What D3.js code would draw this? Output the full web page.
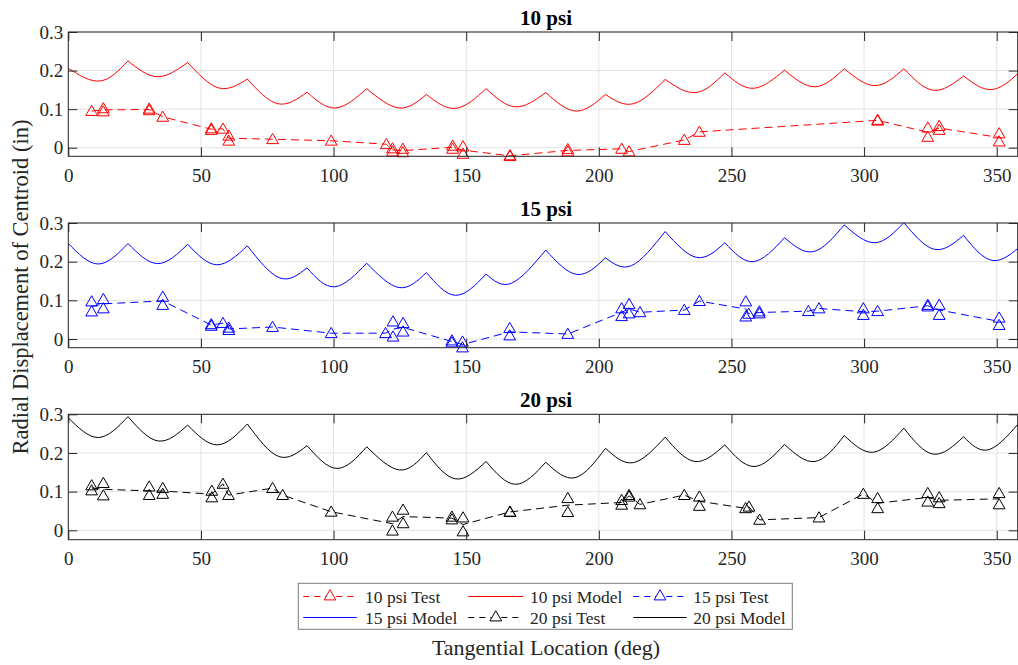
<!DOCTYPE html>
<html>
<head>
<meta charset="utf-8">
<script src="https://cdn.jsdelivr.net/npm/d3@7"></script>
<style>
  body { margin: 0; background: #fff; }
  svg, svg text { font-family: 'Liberation Serif', 'Times New Roman', serif !important; }
</style>
</head>
<body>
<svg id="chart" width="1018" height="665" font-family="Liberation Serif"></svg>
<script>
// ---------- data ----------
const panelTitles = ["10 psi", "15 psi", "20 psi"];
const seriesColors = ["#ff0000", "#0000ff", "#000000"];
const xTickValues = [0, 50, 100, 150, 200, 250, 300, 350];
const yTickValues = [0, 0.1, 0.2, 0.3];
const yTickLabels = ["0", "0.1", "0.2", "0.3"];
const legendLabels = ["10 psi Test", "10 psi Model", "15 psi Test",
                      "15 psi Model", "20 psi Test", "20 psi Model"];

// Model curves: crest angles (every 22.5 deg) and the troughs between them
const crestAngles = [0, 22.5, 45, 67.5, 90, 112.5, 135, 157.5, 180,
                     202.5, 225, 247.5, 270, 292.5, 315, 337.5, 360];
const model10Crests = [0.206, 0.225, 0.221, 0.178, 0.144, 0.153, 0.138, 0.153, 0.143,
                       0.138, 0.177, 0.194, 0.201, 0.205, 0.205, 0.186, 0.206];
const model10TroughAngles = [12, 33.6, 56.7, 79, 100.7, 124.7, 146, 168.5,
                             191.4, 213, 236.6, 258.2, 281.5, 304.1, 326.1, 348.5];
const model10Troughs = [0.173, 0.184, 0.155, 0.114, 0.103, 0.103, 0.102, 0.106,
                        0.095, 0.114, 0.143, 0.154, 0.158, 0.161, 0.149, 0.151];

const model15Crests = [0.247, 0.247, 0.245, 0.241, 0.184, 0.196, 0.172, 0.168, 0.230,
                       0.210, 0.278, 0.249, 0.262, 0.295, 0.301, 0.268, 0.247];
const model15TroughAngles = [11.3, 33.7, 56, 79.7, 100.4, 124.7, 146, 167,
                             191.7, 212.4, 236.9, 258.2, 280.9, 304.1, 326.5, 348.5];
const model15Troughs = [0.194, 0.195, 0.192, 0.158, 0.135, 0.133, 0.113, 0.144,
                        0.167, 0.190, 0.211, 0.200, 0.226, 0.249, 0.232, 0.203];

const model20Crests = [0.291, 0.294, 0.272, 0.275, 0.219, 0.216, 0.201, 0.178, 0.176,
                       0.212, 0.241, 0.221, 0.222, 0.245, 0.264, 0.242, 0.291];
const model20TroughAngles = [11.3, 33.9, 56.2, 79.3, 101.3, 124.9, 146, 168.6,
                             191, 213, 236.2, 258.5, 281.5, 303.5, 326.1, 347.2];
const model20Troughs = [0.240, 0.231, 0.221, 0.191, 0.160, 0.156, 0.133, 0.119,
                        0.136, 0.175, 0.178, 0.165, 0.178, 0.202, 0.197, 0.209];

// Test readings: gauge angles and the readings taken at each angle
const test10Angles = [8.8, 13.2, 30.5, 35.6, 53.9, 58.3, 60.5, 77, 99.1, 119.9, 122.2, 126.1,
                      144.9, 148.8, 166.5, 188.3, 208.6, 211.4, 232.2, 237.9, 305.1, 324, 328.3, 350.9];
const test10Values = [[0.095], [0.102, 0.094], [0.101, 0.097], [0.080], [0.050, 0.046], [0.049],
                      [0.031, 0.018], [0.022], [0.018], [0.009], [-0.002, -0.010], [-0.003, -0.012],
                      [0.005, -0.003], [0.003, -0.016], [-0.020, -0.022], [-0.004, -0.010], [-0.003],
                      [-0.010], [0.020], [0.041], [0.072, 0.070], [0.052, 0.028], [0.056, 0.046],
                      [0.037, 0.016]];

const test15Angles = [8.8, 13.2, 35.6, 53.9, 58.3, 60.5, 77, 99.1, 119.6, 122.4, 126.2, 144.6,
                      148.6, 166.4, 188.3, 208.6, 211.4, 215.5, 232.2, 237.9, 255.4, 256.5, 260.5,
                      279, 283, 299.7, 305.1, 324, 328.3, 350.9];
const test15Values = [[0.097, 0.071], [0.103, 0.079], [0.109, 0.088], [0.038, 0.034], [0.041],
                      [0.029, 0.023], [0.031], [0.015], [0.015], [0.045, 0.006], [0.041, 0.019],
                      [-0.004, -0.009], [-0.007, -0.022], [0.028, 0.009], [0.013], [0.079, 0.059],
                      [0.090, 0.066], [0.069], [0.075], [0.098], [0.097, 0.058], [0.065],
                      [0.071, 0.066], [0.072], [0.079], [0.079, 0.062], [0.072], [0.088, 0.084],
                      [0.088, 0.062], [0.055, 0.036]];

const test20Angles = [8.8, 13.2, 30.5, 35.6, 54.1, 58.3, 60.4, 77, 80.8, 99.1, 122.2, 126.2,
                      144.6, 148.8, 166.5, 188.3, 208.6, 211.4, 215.5, 232.2, 237.9, 255.3, 256.6,
                      260.6, 283, 299.7, 305.1, 324, 328.3, 350.9];
const test20Values = [[0.116, 0.103], [0.122, 0.090], [0.113, 0.091], [0.109, 0.094], [0.102, 0.085],
                      [0.120], [0.091], [0.109], [0.091], [0.048], [0.035, -0.001], [0.053, 0.018],
                      [0.035, 0.028], [0.033, -0.003], [0.048, 0.047], [0.083, 0.047], [0.078, 0.066],
                      [0.091, 0.087], [0.067], [0.091], [0.087, 0.063], [0.057], [0.061], [0.027],
                      [0.033], [0.094], [0.083, 0.057], [0.096, 0.074], [0.085, 0.070], [0.096, 0.067]];

// ---------- layout ----------
const svg = d3.select("#chart");
const serif = "Liberation Serif";
const plotLeft = 68.3, plotRight = 1017.7;
const panelBoxes = [
  { top: 32,    bottom: 156.3, yMin: -0.0223 },
  { top: 223,   bottom: 347.7, yMin: -0.0225 },
  { top: 414.3, bottom: 539.7, yMin: -0.0243 }
];
const axisColor = "#262626";
const gridColor = "#e3e3e3";
const tickLen = 9;

const x = d3.scaleLinear().domain([0, 357.9]).range([plotLeft, plotRight]);

const models = [
  { crests: model10Crests, troughAngles: model10TroughAngles, troughs: model10Troughs },
  { crests: model15Crests, troughAngles: model15TroughAngles, troughs: model15Troughs },
  { crests: model20Crests, troughAngles: model20TroughAngles, troughs: model20Troughs }
];
const tests = [
  { angles: test10Angles, values: test10Values },
  { angles: test15Angles, values: test15Values },
  { angles: test20Angles, values: test20Values }
];

const triangle = d3.symbol().type(d3.symbolTriangle).size(60);
const dashPattern = "8,5";

svg.append("defs").selectAll("clipPath")
  .data(panelBoxes).join("clipPath")
  .attr("id", (d, i) => "clip" + i)
  .append("rect")
  .attr("x", plotLeft).attr("y", d => d.top)
  .attr("width", plotRight - plotLeft).attr("height", d => d.bottom - d.top);

panelBoxes.forEach((box, i) => {
  const y = d3.scaleLinear().domain([box.yMin, 0.3]).range([box.bottom, box.top]);
  const color = seriesColors[i];
  const g = svg.append("g");

  // background grid
  g.append("g").selectAll("line").data(xTickValues).join("line")
    .attr("x1", d => x(d)).attr("x2", d => x(d))
    .attr("y1", box.top).attr("y2", box.bottom)
    .attr("stroke", gridColor).attr("stroke-width", 1);
  g.append("g").selectAll("line").data(yTickValues).join("line")
    .attr("x1", plotLeft).attr("x2", plotRight)
    .attr("y1", d => y(d)).attr("y2", d => y(d))
    .attr("stroke", gridColor).attr("stroke-width", 1);

  const plot = g.append("g").attr("clip-path", `url(#clip${i})`);

  // model curve: one smooth arc from each crest through its trough to the next crest
  const m = models[i];
  const arc = d3.line().x(d => x(d[0])).y(d => y(d[1])).curve(d3.curveNatural);
  let pathStr = "";
  for (let k = 0; k < m.troughs.length; k++) {
    pathStr += arc([
      [crestAngles[k], m.crests[k]],
      [m.troughAngles[k], m.troughs[k]],
      [crestAngles[k + 1], m.crests[k + 1]]
    ]);
  }
  plot.append("path").attr("d", pathStr)
    .attr("fill", "none").attr("stroke", color).attr("stroke-width", 1);

  // test data: dashed line through the mean at each gauge, triangles for every reading
  const t = tests[i];
  const meanPts = t.angles.map((a, k) => [a, d3.mean(t.values[k])]);
  plot.append("path")
    .attr("d", d3.line().x(d => x(d[0])).y(d => y(d[1]))(meanPts))
    .attr("fill", "none").attr("stroke", color).attr("stroke-width", 1)
    .attr("stroke-dasharray", dashPattern);
  const pts = t.angles.flatMap((a, k) => t.values[k].map(v => [a, v]));
  g.append("g").selectAll("path").data(pts).join("path")
    .attr("d", triangle)
    .attr("transform", d => `translate(${x(d[0])},${y(d[1]) + 1})`)
    .attr("fill", "none").attr("stroke", color).attr("stroke-width", 1);

  // axes with inward ticks
  const styleAxis = sel => {
    sel.attr("font-family", serif).attr("font-size", 19);
    sel.select(".domain").remove();
    sel.selectAll(".tick line").attr("stroke", axisColor);
    sel.selectAll(".tick text").attr("fill", axisColor)
      .attr("font-family", serif).attr("font-size", 19);
  };
  g.append("g").attr("transform", `translate(0,${box.bottom})`)
    .call(d3.axisBottom(x).tickValues(xTickValues).tickSizeInner(-tickLen).tickSizeOuter(0)
      .tickPadding(12).tickFormat(d3.format("d")))
    .call(styleAxis);
  g.append("g").attr("transform", `translate(0,${box.top})`)
    .call(d3.axisTop(x).tickValues(xTickValues).tickSizeInner(-tickLen).tickSizeOuter(0)
      .tickFormat(""))
    .call(styleAxis);
  g.append("g").attr("transform", `translate(${plotLeft},0)`)
    .call(d3.axisLeft(y).tickValues(yTickValues).tickSizeInner(-tickLen).tickSizeOuter(0)
      .tickPadding(5).tickFormat((d, k) => yTickLabels[k]))
    .call(styleAxis);
  g.append("g").attr("transform", `translate(${plotRight},0)`)
    .call(d3.axisRight(y).tickValues(yTickValues).tickSizeInner(-tickLen).tickSizeOuter(0)
      .tickFormat(""))
    .call(styleAxis);

  g.append("rect")
    .attr("x", plotLeft).attr("y", box.top)
    .attr("width", plotRight - plotLeft).attr("height", box.bottom - box.top)
    .attr("fill", "none").attr("stroke", axisColor).attr("stroke-width", 1);

  // panel title
  g.append("text")
    .attr("x", 546).attr("y", box.top - 7)
    .attr("text-anchor", "middle")
    .style("font-size", "21px").style("font-weight", "bold")
    .attr("fill", "#000")
    .text(panelTitles[i]);
});

// axis titles
svg.append("text")
  .attr("transform", "translate(28,287) rotate(-90)")
  .attr("text-anchor", "middle")
  .style("font-size", "22.5px").attr("fill", axisColor)
  .text("Radial Displacement of Centroid (in)");
svg.append("text")
  .attr("x", 546).attr("y", 655)
  .attr("text-anchor", "middle")
  .style("font-size", "22px").attr("fill", axisColor)
  .text("Tangential Location (deg)");

// legend
const legend = svg.append("g");
legend.append("rect")
  .attr("x", 298.3).attr("y", 583.3).attr("width", 494).attr("height", 46)
  .attr("fill", "#fff").attr("stroke", "#7a7a7a").attr("stroke-width", 1);
const colSample = [[303.3, 356.7], [468.3, 523.3], [633.3, 686.7]];
const colText = [365, 530, 693.3];
const rowY = [596.5, 617.5];
legendLabels.forEach((label, k) => {
  const row = Math.floor(k / 3), col = k % 3;
  const series = Math.floor(k / 2);
  const isTest = k % 2 === 0;
  const color = seriesColors[series];
  const [x1, x2] = colSample[col];
  const yy = rowY[row];
  legend.append("line")
    .attr("x1", x1).attr("x2", x2).attr("y1", yy).attr("y2", yy)
    .attr("stroke", color).attr("stroke-width", 1)
    .attr("stroke-dasharray", isTest ? "6,5" : null);
  if (isTest) {
    legend.append("path").attr("d", triangle)
      .attr("transform", `translate(${(x1 + x2) / 2},${yy})`)
      .attr("fill", "#fff").attr("stroke", color).attr("stroke-width", 1);
  }
  legend.append("text")
    .attr("x", colText[col]).attr("y", yy + 6)
    .style("font-size", "17.5px").attr("fill", axisColor)
    .text(label);
});
</script>
</body>
</html>
